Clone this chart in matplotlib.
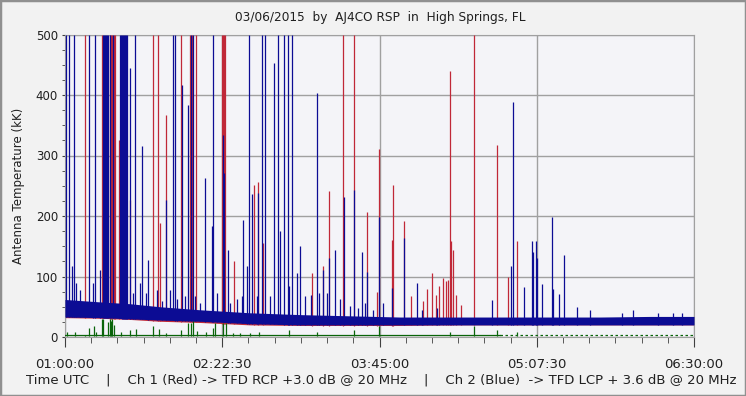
import numpy as np
import matplotlib
matplotlib.use("Agg")
import matplotlib.pyplot as plt
from matplotlib.patches import Rectangle

# time in minutes after 01:00:00 UTC, values in kK

# baseline noise band, read at a few times
base_t = [0, 18.4, 34.1, 49.8, 70.8, 97.1, 123.3, 149.5, 175.7, 202.0, 228.2, 254.4, 280.7, 306.9, 330]
blue_lo = [33, 32, 30, 28, 26, 22, 20, 20, 20, 20, 20, 20, 20, 20, 20]
blue_hi = [62, 58, 55, 50, 45, 40, 37, 35, 33, 33, 33, 33, 33, 34, 34]
red_lo = [32, 31, 29, 26, 24, 20, 19, 19, 19, 20, 20, 20, 20, 20, 20]
red_hi = [55, 50, 46, 42, 38, 35, 33, 32, 31, 31, 31, 31, 31, 31, 31]
green_base = [3, 3, 3, 3, 3, 3, 3, 3, 3, 3, 3, 3, 3, 3, 3]

# Ch 2 (blue) spikes
blue_t = [0.5, 2.1, 3.5, 4.7, 5.8, 7.9, 12.6, 14.7, 15.7, 18.4, 19.9, 20.5, 21.0, 21.5, 22.0, 22.6,
          23.6, 25.2, 28.9, 29.4, 29.9, 30.4, 31.0, 31.5, 32.0, 32.5, 34.1, 35.7, 36.7, 39.3, 40.4,
          42.5, 43.5, 48.3, 50.9, 53.0, 55.1, 56.7, 57.7, 58.8, 61.4, 63.0, 64.5, 66.1, 67.1, 68.2,
          70.8, 73.4, 77.1, 77.6, 79.7, 82.9, 83.4, 85.5, 86.6, 90.2, 92.9, 93.4, 95.5, 96.5, 97.9,
          100.7, 101.2, 103.3, 104.9, 107.5, 109.6, 111.7, 112.8, 114.9, 117.0, 117.5, 119.1, 121.7,
          123.3, 125.9, 129.1, 132.2, 133.2, 135.3, 137.4, 138.5, 141.6, 144.3, 146.4, 149.5, 151.6,
          153.7, 155.8, 157.4, 158.4, 161.6, 164.7, 166.8, 171.5, 177.8, 184.7, 187.3, 195.2, 224.0,
          234.0, 235.0, 240.8, 245.0, 245.5, 247.1, 247.6, 250.2, 255.5, 256.0, 259.1, 261.8, 268.6,
          275.4, 292.2, 298.0, 311.1, 319.0, 323.7]
blue_v = [500, 500, 117, 500, 89, 78, 500, 89, 500, 111, 500, 500, 500, 500, 500, 500,
          500, 500, 500, 500, 500, 500, 500, 500, 500, 500, 444, 73, 500, 89, 315,
          73, 128, 78, 59, 226, 78, 500, 500, 62, 417, 67, 384, 500, 500, 67,
          56, 262, 183, 500, 73, 334, 271, 144, 56, 62, 67, 193, 117, 500, 237,
          67, 238, 500, 500, 67, 453, 500, 176, 500, 500, 84, 500, 106,
          150, 67, 70, 403, 73, 111, 73, 131, 144, 62, 232, 51, 243,
          48, 140, 56, 108, 45, 199, 56, 81, 164, 89, 45, 48, 61,
          118, 389, 82, 158, 140, 158, 131, 88, 198, 79, 71, 136, 49,
          45, 40, 44, 40, 40, 40]

# Ch 1 (red) spikes
red_t = [10.5, 19.3, 23.6, 24.1, 24.7, 25.7, 26.2, 28.3, 34.1, 46.2, 48.8, 49.8, 53.0, 60.9,
         65.6, 66.6, 68.7, 82.4, 82.9, 83.4, 83.9, 88.7, 99.2, 101.2, 103.9, 129.6, 135.3, 138.5,
         145.8, 151.6, 158.4, 163.7, 164.7, 171.5, 172.1, 177.8, 181.5, 188.0, 190.0, 192.5, 194.5,
         196.0, 198.3, 199.9, 200.9, 202.0, 202.5, 203.5, 205.0, 207.7, 214.6, 226.6, 232.4, 237.1]
red_v = [500, 500, 500, 500, 500, 500, 500, 326, 227, 500, 500, 188, 367, 500,
         500, 500, 500, 500, 500, 500, 500, 125, 252, 257, 155, 106, 118, 242,
         500, 500, 206, 75, 311, 160, 252, 192, 67, 60, 80, 106, 70,
         85, 97, 92, 94, 439, 158, 144, 70, 53, 500, 318, 99, 158]

# difference channel (green) spikes
green_t = [1.2, 5.2, 10.5, 12.8, 15.4, 16.3, 19.3, 20.1, 22.6, 23.6, 24.1, 24.7, 25.7, 29.4, 34.1,
           37.2, 46.2, 49.1, 53.0, 60.7, 64.7, 66.1, 67.0, 69.1, 73.9, 77.8, 78.9, 83.1, 84.4,
           88.1, 91.8, 97.1, 101.7, 117.5, 132.2, 151.6, 164.7, 202.0, 214.6, 226.6, 237.1]
green_v = [9, 9, 4, 15, 18, 9, 29, 30, 25, 29, 27, 29, 20, 9, 12,
           13, 18, 13, 7, 12, 23, 23, 26, 10, 9, 15, 23, 23, 23,
           6, 6, 6, 9, 12, 9, 12, 18, 9, 19, 11, 8]

x_ticks = [0, 82.5, 165, 247.5, 330]
x_labels = ["01:00:00", "02:22:30", "03:45:00", "05:07:30", "06:30:00"]
y_ticks = [0, 100, 200, 300, 400, 500]

BLUE = "#0c0c94"
RED = "#c02838"
GREEN = "#0a640a"

plt.rcParams['font.family'] = ['DejaVu Sans']
fig = plt.figure(figsize=(7.46, 3.96), dpi=100, facecolor="#f2f2f2")
ax = fig.add_axes([65 / 746, (396 - 337) / 396, 629 / 746, 302.5 / 396])
ax.set_facecolor("#f4f4f8")

def baseline_at(t, lo):
    return np.interp(t, base_t, lo)

# red channel
ax.fill_between(base_t, red_lo, red_hi, color=RED, lw=0, zorder=2)
ax.vlines(red_t, baseline_at(red_t, red_lo), red_v, color=RED, lw=0.9, zorder=3)
# blue channel on top
ax.fill_between(base_t, blue_lo, blue_hi, color=BLUE, lw=0, zorder=4)
ax.vlines(blue_t, baseline_at(blue_t, blue_lo), blue_v, color=BLUE, lw=0.9, zorder=5)
# green channel
ax.plot(base_t[:11], green_base[:11], color=GREEN, lw=0.9, zorder=4)
ax.plot(base_t[10:], green_base[10:], color=GREEN, lw=0.9, ls=(0, (2, 2)), zorder=4)
ax.vlines(green_t, 2, green_v, color=GREEN, lw=0.9, zorder=4)

ax.set_xlim(0, 330)
ax.set_ylim(0, 500)
ax.set_xticks(x_ticks)
ax.set_xticklabels(x_labels)
ax.set_xticks(np.arange(0, 331, 13.75), minor=True)
ax.set_yticks(y_ticks)
ax.set_yticks(np.arange(0, 501, 25), minor=True)
ax.grid(True, color="#a0a0a0", lw=1.0, zorder=1)
for s in ax.spines.values():
    s.set_color("#a0a0a0")
ax.tick_params(axis="x", which="major", direction="out", length=7, color="#404040",
               labelsize=9.5, pad=8, labelcolor="#202020")
ax.tick_params(axis="x", which="minor", direction="out", length=4, color="#404040")
ax.tick_params(axis="y", which="both", direction="out", length=2, color="#404040",
               labelsize=8.5, pad=3, labelcolor="#202020")

ax.set_ylabel("Antenna Temperature (kK)", fontsize=8.5, color="#202020", labelpad=8)
fig.text(380 / 746, 1 - 17 / 396, "03/06/2015  by  AJ4CO RSP  in  High Springs, FL",
         ha="center", va="center", fontsize=8.7, color="#202020")
fig.text(381 / 746, 1 - 380 / 396,
         "Time UTC    |    Ch 1 (Red) -> TFD RCP +3.0 dB @ 20 MHz    |    Ch 2 (Blue)  -> TFD LCP + 3.6 dB @ 20 MHz",
         ha="center", va="center", fontsize=9.5, color="#202020")

fig.patches.append(Rectangle((0, 0), 1, 1, transform=fig.transFigure, fill=False,
                             edgecolor="#909090", lw=2.5))

fig.savefig("out.png", dpi=100, facecolor=fig.get_facecolor())
